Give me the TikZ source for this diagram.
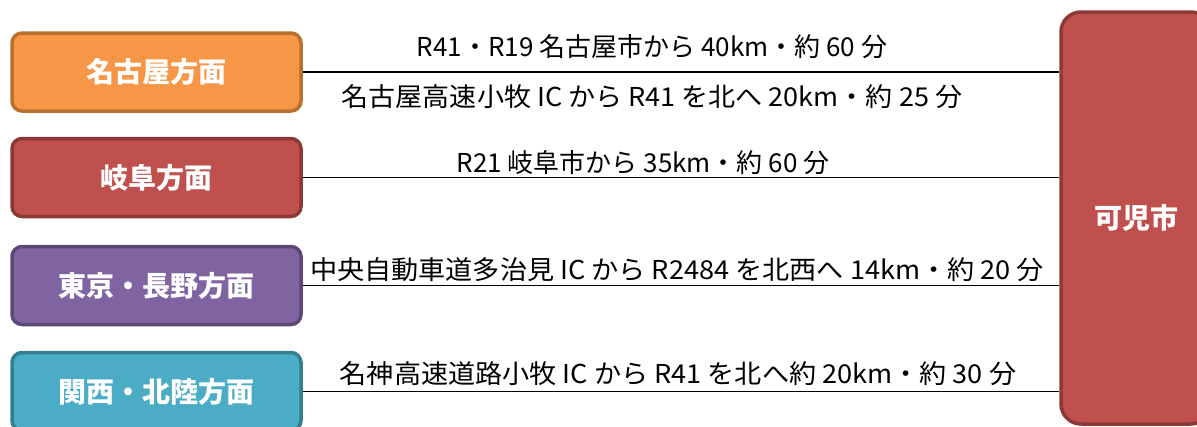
\documentclass[tikz,border=0pt]{standalone}
\usepackage{fontspec}
\setmainfont{Noto Sans CJK JP}
\newfontfamily\jp{Noto Sans CJK JP}
\definecolor{orfill}{HTML}{F79646}
\definecolor{ordraw}{HTML}{B8702F}
\definecolor{rdfill}{HTML}{C0504D}
\definecolor{rddraw}{HTML}{8C3836}
\definecolor{pufill}{HTML}{8064A2}
\definecolor{pudraw}{HTML}{5C4776}
\definecolor{tefill}{HTML}{4BACC6}
\definecolor{tedraw}{HTML}{357D91}
\begin{document}
\begin{tikzpicture}[x=1pt,y=-1pt,
  dirbox/.style={draw, line width=3.5pt, rounded corners=10pt, minimum width=289pt, minimum height=78pt,
    text=white, font=\jp\bfseries\fontsize{28}{32}\selectfont, inner sep=0pt},
  citybox/.style={draw=rddraw, fill=rdfill, line width=3.5pt, rounded corners=20pt, minimum width=150pt, minimum height=412pt,
    text=white, font=\jp\bfseries\fontsize{28}{32}\selectfont, inner sep=0pt},
  route/.style={font=\jp\fontsize{26}{30}\selectfont, inner sep=0pt, text=black},
  conn/.style={draw=black, line width=1.5pt}]
\useasboundingbox (0,0) rectangle (1197,426);
\clip (0,0) rectangle (1197,426);
\node[citybox] (kani) at (1136,218) {可児市};
\node[dirbox, fill=orfill, draw=ordraw] (nagoya) at (156.5,72) {名古屋方面};
\node[dirbox, fill=rdfill, draw=rddraw] (gifu) at (156.5,177.5) {岐阜方面};
\node[dirbox, fill=pufill, draw=pudraw] (tokyo) at (156.5,285.5) {東京・長野方面};
\node[dirbox, fill=tefill, draw=tedraw] (kansai) at (156.5,391.5) {関西・北陸方面};
\draw[conn] (nagoya.east) -- (nagoya.east -| kani.west);
\draw[conn] (gifu.east) -- (gifu.east -| kani.west);
\draw[conn] (tokyo.east) -- (tokyo.east -| kani.west);
\draw[conn] (kansai.east) -- (kansai.east -| kani.west);
\node[route] (r1) at (652,47) {R41・R19 名古屋市から 40km・約 60 分};
\node[route] (r2) at (652,97) {\scalebox{1.04}[1]{名古屋高速小牧 IC から R41 を北へ 20km・約 25 分}};
\node[route] (r3) at (643,163) {R21 岐阜市から 35km・約 60 分};
\node[route] (r4) at (677,270) {\scalebox{1.043}[1]{中央自動車道多治見 IC から R2484 を北西へ 14km・約 20 分}};
\node[route] (r5) at (678,374) {\scalebox{1.043}[1]{名神高速道路小牧 IC から R41 を北へ約 20km・約 30 分}};
\end{tikzpicture}
\end{document}
